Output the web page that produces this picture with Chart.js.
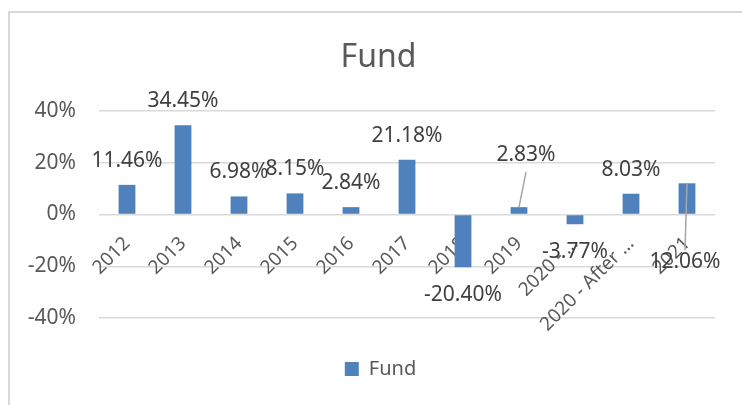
<!DOCTYPE html>
<html>
<head>
<meta charset="utf-8">
<script src="https://cdn.jsdelivr.net/npm/chart.js@4/dist/chart.umd.min.js"></script>
<style>
  html, body { margin: 0; padding: 0; background: #fff; overflow: hidden; }
  .frame { position: absolute; left: 8px; top: 11px; width: 800px; height: 460px; border: 2px solid #d9d9d9; }
  .wrap { position: absolute; left: 0; top: 0; width: 742px; height: 405px; }
</style>
</head>
<body>
<div class="frame"></div>
<div class="wrap"><canvas id="fundChart"></canvas></div>
<script>
// Fund yearly returns (%)
const years = ['2012', '2013', '2014', '2015', '2016', '2017', '2018', '2019', '2020 - \u2026', '2020 - After \u2026', '2021'];
const fundReturns = [11.46, 34.45, 6.98, 8.15, 2.84, 21.18, -20.40, 2.83, -3.77, 8.03, 12.06];
const yTicks = [-40, -20, 0, 20, 40];

// labels that were dragged away from the bar end in the original sheet
const movedLabels = { 7: { dx: 7, dy: -52 }, 10: { dx: -2, dy: 79 } };

const FONT = '"Noto Sans", "Open Sans", sans-serif';

const valueLabels = {
  id: 'valueLabels',
  afterDatasetsDraw(chart) {
    const ctx = chart.ctx;
    const meta = chart.getDatasetMeta(0);
    ctx.save();
    ctx.font = '21px ' + FONT;
    ctx.textAlign = 'center';
    ctx.textBaseline = 'middle';
    meta.data.forEach((bar, i) => {
      const v = fundReturns[i];
      let x = bar.x;
      let y = v >= 0 ? bar.y - 24 : bar.y + 28;
      const moved = movedLabels[i];
      if (moved) {
        x = bar.x + moved.dx;
        y = bar.y + moved.dy;
        // leader line back to the bar end
        ctx.strokeStyle = '#a6a6a6';
        ctx.lineWidth = 1.5;
        ctx.beginPath();
        ctx.moveTo(x, y + (moved.dy < 0 ? 17 : -12));
        ctx.lineTo(bar.x, bar.y);
        ctx.stroke();
      }
      ctx.fillStyle = '#404040';
      ctx.fillText(v.toFixed(2) + '%', x, y);
    });
    ctx.restore();
  }
};

// title + legend are centred on the whole framed chart, not on the canvas
const centerOnFrame = {
  id: 'centerOnFrame',
  afterLayout(chart) {
    if (chart.titleBlock) chart.titleBlock.left = 42;
    if (chart.legend) chart.legend.left = 46;
  }
};

new Chart(document.getElementById('fundChart'), {
  type: 'bar',
  data: {
    labels: years,
    datasets: [{
      label: 'Fund',
      data: fundReturns,
      backgroundColor: '#4f81bd',
      categoryPercentage: 1,
      barPercentage: 0.3
    }]
  },
  options: {
    responsive: true,
    maintainAspectRatio: false,
    animation: false,
    layout: { padding: { left: 0, right: 27, top: 0, bottom: 16 } },
    plugins: {
      title: {
        display: true,
        text: 'Fund',
        color: '#595959',
        font: { family: FONT, size: 32, weight: 'normal' },
        padding: { top: 39, bottom: 33.6 }
      },
      legend: {
        position: 'bottom',
        labels: {
          boxWidth: 14,
          boxHeight: 14,
          padding: 41,
          color: '#595959',
          font: { family: FONT, size: 20 }
        }
      },
      tooltip: { enabled: false }
    },
    scales: {
      x: {
        position: { y: 0 },
        z: 1,
        grid: { display: false },
        border: { display: false },
        ticks: {
          autoSkip: false,
          maxRotation: 45,
          minRotation: 45,
          padding: 10,
          color: '#595959',
          font: { family: FONT, size: 19 }
        }
      },
      y: {
        min: yTicks[0],
        max: yTicks[yTicks.length - 1],
        afterBuildTicks: (scale) => { scale.ticks = yTicks.map(v => ({ value: v })); },
        afterFit: (scale) => { scale.width = 99; },
        grid: { color: '#d9d9d9', lineWidth: 1.5, drawTicks: false },
        border: { display: false },
        ticks: {
          padding: 23,
          color: '#595959',
          font: { family: FONT, size: 21 },
          callback: (v) => v + '%'
        }
      }
    }
  },
  plugins: [valueLabels, centerOnFrame]
});
</script>
</body>
</html>
